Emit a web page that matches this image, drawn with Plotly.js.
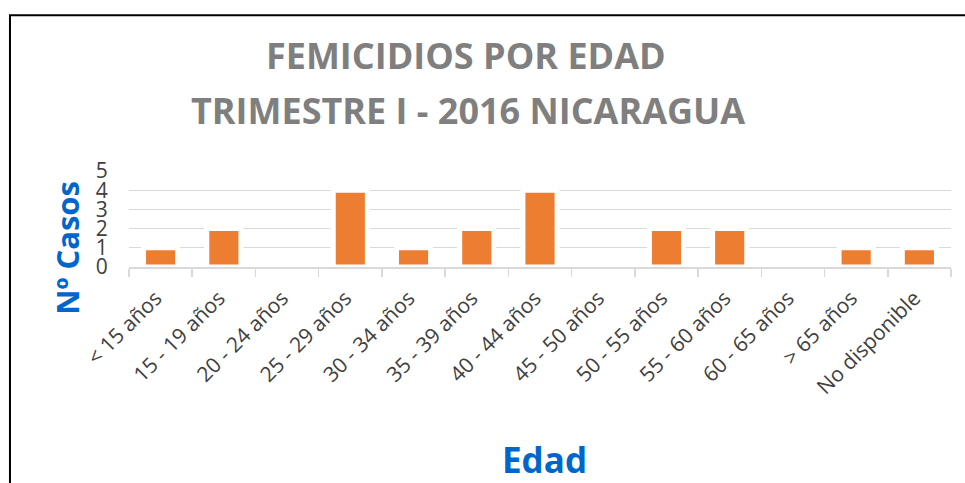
<!DOCTYPE html>
<html>
<head>
<meta charset="utf-8">
<script src="https://cdn.plot.ly/plotly-3.0.1.min.js"></script>
<style>
  html, body { margin: 0; padding: 0; background: #ffffff; }
  #chart { width: 965px; height: 483px; }
</style>
</head>
<body>
<div id="chart"></div>
<script>
const categories = ["< 15 años", "15 - 19 años", "20 - 24 años", "25 - 29 años", "30 - 34 años",
  "35 - 39 años", "40 - 44 años", "45 - 50 años", "50 - 55 años", "55 - 60 años",
  "60 - 65 años", "> 65 años", "No disponible"];
const casos = [1, 2, 0, 4, 1, 2, 4, 0, 2, 2, 0, 1, 1];
const yTicks = [0, 1, 2, 3, 4, 5];

const titleLine1 = "FEMICIDIOS POR EDAD";
const titleLine2 = "TRIMESTRE I - 2016 NICARAGUA";
const yTitle = "Nº Casos";
const xTitle = "Edad";

const FONT = "Open Sans, Noto Sans, sans-serif";

const trace = {
  type: "bar",
  x: categories,
  y: casos,
  marker: { color: "#ED7D31", line: { color: "#FFFFFF", width: 5 } },
  hoverinfo: "x+y"
};

const layout = {
  width: 965,
  height: 483,
  margin: { l: 129, r: 14, t: 171, b: 216 },
  paper_bgcolor: "#FFFFFF",
  plot_bgcolor: "#FFFFFF",
  showlegend: false,
  bargap: 0.46,
  font: { family: FONT, color: "#404040" },
  xaxis: {
    type: "category",
    tickangle: -45,
    tickfont: { size: 21, color: "#404040", family: FONT },
    ticklabelstandoff: 9,
    ticklabelshift: -5,
    showline: true,
    linecolor: "#D9D9D9",
    linewidth: 1.5,
    ticks: "outside",
    tickson: "boundaries",
    ticklen: 8,
    tickcolor: "#D9D9D9",
    tickwidth: 1.5,
    showgrid: false,
    zeroline: false,
    automargin: false
  },
  yaxis: {
    range: [0, 5],
    tickvals: yTicks,
    ticktext: yTicks.map(String),
    tickfont: { size: 21, color: "#404040", family: FONT },
    showgrid: true,
    gridcolor: "#D9D9D9",
    gridwidth: 1.3,
    showline: false,
    zeroline: false,
    ticks: "outside",
    ticklen: 16,
    tickcolor: "rgba(0,0,0,0)",
    automargin: false,
    fixedrange: true
  },
  annotations: [
    { text: titleLine1, xref: "paper", yref: "paper", x: 0.41, y: 2.2,
      xanchor: "center", yanchor: "middle", showarrow: false,
      font: { size: 36, color: "#7F7F7F", family: FONT, weight: "bold" } },
    { text: titleLine2, xref: "paper", yref: "paper", x: 0.412, y: 1.628,
      xanchor: "center", yanchor: "middle", showarrow: false,
      font: { size: 36, color: "#7F7F7F", family: FONT, weight: "bold" } },
    { text: yTitle, xref: "paper", yref: "paper", x: -0.0754, y: 0.2,
      xanchor: "center", yanchor: "middle", showarrow: false, textangle: -90,
      font: { size: 31, color: "#0066CC", family: FONT, weight: "bold" } },
    { text: xTitle, xref: "paper", yref: "paper", x: 0.506, y: -2.005,
      xanchor: "center", yanchor: "middle", showarrow: false,
      font: { size: 35, color: "#0066CC", family: FONT, weight: "bold" } }
  ],
  shapes: [
    { type: "rect", xref: "paper", yref: "paper",
      x0: -0.1448, x1: 1.03, y0: -2.4, y1: 2.622,
      line: { color: "#000000", width: 2 }, fillcolor: "rgba(0,0,0,0)", layer: "above" }
  ]
};

Plotly.newPlot("chart", [trace], layout, { displayModeBar: false, staticPlot: true });
</script>
</body>
</html>
